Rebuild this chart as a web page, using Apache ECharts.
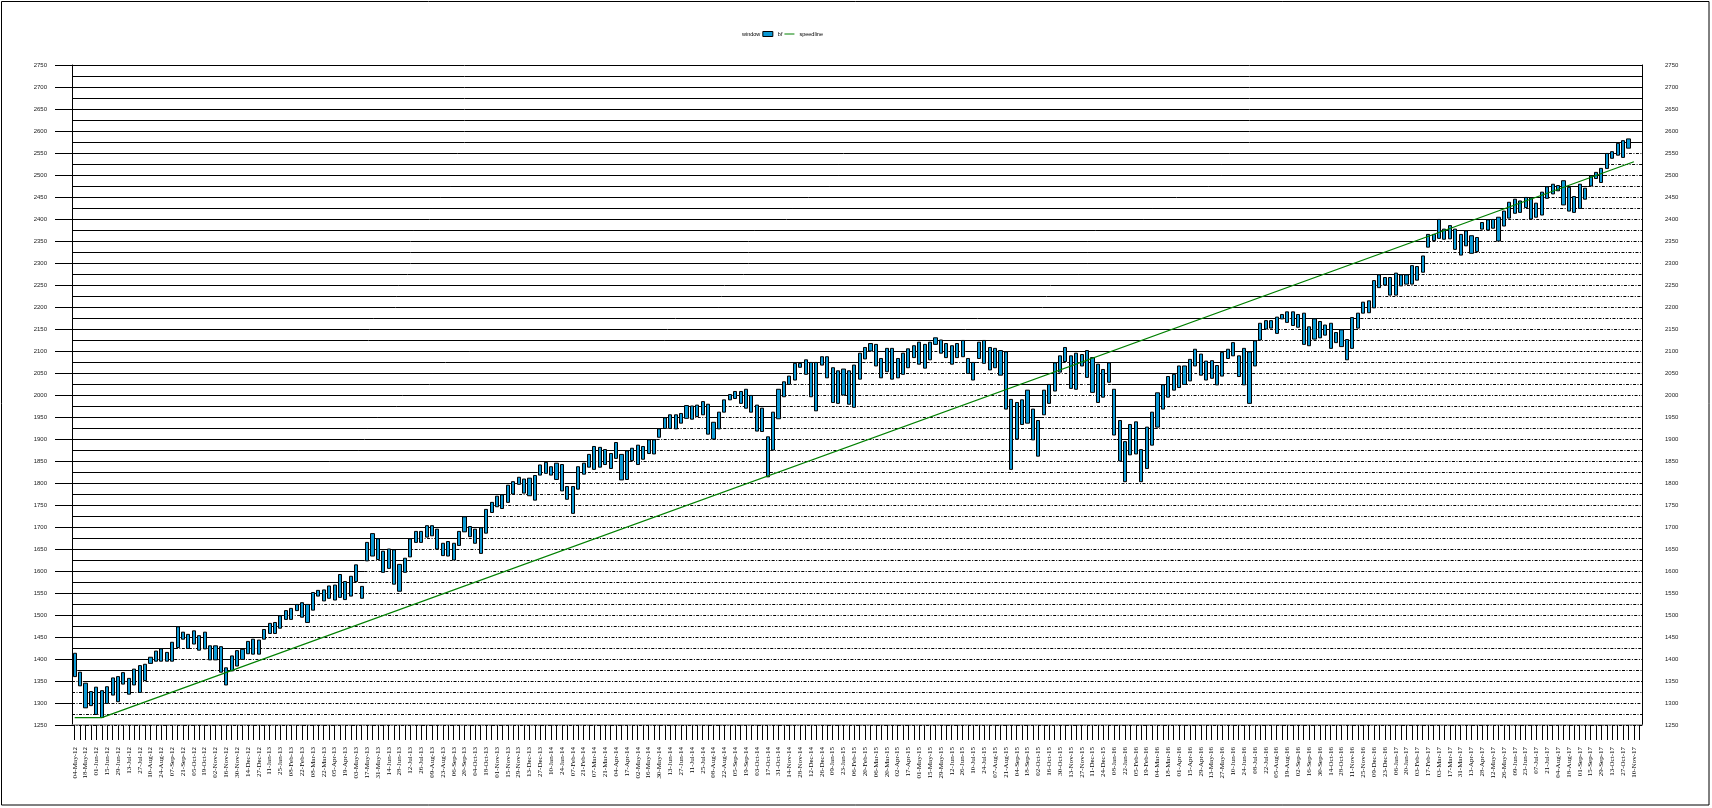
<!DOCTYPE html>
<html>
<head>
<meta charset="utf-8">
<script src="https://cdn.jsdelivr.net/npm/echarts@6/dist/echarts.min.js"></script>
<style>html,body{margin:0;padding:0;background:#fff}#c{width:1712px;height:808px}</style>
</head>
<body>
<div id="c"></div>
<script>
const categories = [
'04-May-12','11-May-12','18-May-12','25-May-12','01-Jun-12','08-Jun-12','15-Jun-12','22-Jun-12','29-Jun-12','06-Jul-12',
'13-Jul-12','20-Jul-12','27-Jul-12','03-Aug-12','10-Aug-12','17-Aug-12','24-Aug-12','31-Aug-12','07-Sep-12','14-Sep-12',
'21-Sep-12','28-Sep-12','05-Oct-12','12-Oct-12','19-Oct-12','26-Oct-12','02-Nov-12','09-Nov-12','16-Nov-12','23-Nov-12',
'30-Nov-12','07-Dec-12','14-Dec-12','21-Dec-12','27-Dec-12',
'04-Jan-13','11-Jan-13','18-Jan-13','25-Jan-13','01-Feb-13','08-Feb-13','15-Feb-13','22-Feb-13','01-Mar-13','08-Mar-13',
'15-Mar-13','22-Mar-13','28-Mar-13','05-Apr-13','12-Apr-13','19-Apr-13','26-Apr-13','03-May-13','10-May-13','17-May-13',
'24-May-13','31-May-13','07-Jun-13','14-Jun-13','21-Jun-13','28-Jun-13','05-Jul-13','12-Jul-13','19-Jul-13','26-Jul-13',
'02-Aug-13','09-Aug-13','16-Aug-13','23-Aug-13','30-Aug-13','06-Sep-13','13-Sep-13','20-Sep-13','27-Sep-13','04-Oct-13',
'11-Oct-13','18-Oct-13','25-Oct-13','01-Nov-13','08-Nov-13','15-Nov-13','22-Nov-13','29-Nov-13','06-Dec-13','13-Dec-13',
'20-Dec-13','27-Dec-13',
'03-Jan-14','10-Jan-14','17-Jan-14','24-Jan-14','31-Jan-14','07-Feb-14','14-Feb-14','21-Feb-14','28-Feb-14','07-Mar-14',
'14-Mar-14','21-Mar-14','28-Mar-14','04-Apr-14','11-Apr-14','17-Apr-14','25-Apr-14','02-May-14','09-May-14','16-May-14',
'23-May-14','30-May-14','06-Jun-14','13-Jun-14','20-Jun-14','27-Jun-14','03-Jul-14','11-Jul-14','18-Jul-14','25-Jul-14',
'01-Aug-14','08-Aug-14','15-Aug-14','22-Aug-14','29-Aug-14','05-Sep-14','12-Sep-14','19-Sep-14','26-Sep-14','03-Oct-14',
'10-Oct-14','17-Oct-14','24-Oct-14','31-Oct-14','07-Nov-14','14-Nov-14','21-Nov-14','28-Nov-14','05-Dec-14','12-Dec-14',
'19-Dec-14','26-Dec-14',
'02-Jan-15','09-Jan-15','16-Jan-15','23-Jan-15','30-Jan-15','06-Feb-15','13-Feb-15','20-Feb-15','27-Feb-15','06-Mar-15',
'13-Mar-15','20-Mar-15','27-Mar-15','02-Apr-15','10-Apr-15','17-Apr-15','24-Apr-15','01-May-15','08-May-15','15-May-15',
'22-May-15','29-May-15','05-Jun-15','12-Jun-15','19-Jun-15','26-Jun-15','02-Jul-15','10-Jul-15','17-Jul-15','24-Jul-15',
'31-Jul-15','07-Aug-15','14-Aug-15','21-Aug-15','28-Aug-15','04-Sep-15','11-Sep-15','18-Sep-15','25-Sep-15','02-Oct-15',
'09-Oct-15','16-Oct-15','23-Oct-15','30-Oct-15','06-Nov-15','13-Nov-15','20-Nov-15','27-Nov-15','04-Dec-15','11-Dec-15',
'18-Dec-15','24-Dec-15','31-Dec-15',
'08-Jan-16','15-Jan-16','22-Jan-16','29-Jan-16','05-Feb-16','12-Feb-16','19-Feb-16','26-Feb-16','04-Mar-16','11-Mar-16',
'18-Mar-16','24-Mar-16','01-Apr-16','08-Apr-16','15-Apr-16','22-Apr-16','29-Apr-16','06-May-16','13-May-16','20-May-16',
'27-May-16','03-Jun-16','10-Jun-16','17-Jun-16','24-Jun-16','01-Jul-16','08-Jul-16','15-Jul-16','22-Jul-16','29-Jul-16',
'05-Aug-16','12-Aug-16','19-Aug-16','26-Aug-16','02-Sep-16','09-Sep-16','16-Sep-16','23-Sep-16','30-Sep-16','07-Oct-16',
'14-Oct-16','21-Oct-16','28-Oct-16','04-Nov-16','11-Nov-16','18-Nov-16','25-Nov-16','02-Dec-16','09-Dec-16','16-Dec-16',
'23-Dec-16','30-Dec-16',
'06-Jan-17','13-Jan-17','20-Jan-17','27-Jan-17','03-Feb-17','10-Feb-17','17-Feb-17','24-Feb-17','03-Mar-17','10-Mar-17',
'17-Mar-17','24-Mar-17','31-Mar-17','07-Apr-17','13-Apr-17','21-Apr-17','28-Apr-17','05-May-17','12-May-17','19-May-17',
'26-May-17','02-Jun-17','09-Jun-17','16-Jun-17','23-Jun-17','30-Jun-17','07-Jul-17','14-Jul-17','21-Jul-17','28-Jul-17',
'04-Aug-17','11-Aug-17','18-Aug-17','25-Aug-17','01-Sep-17','08-Sep-17','15-Sep-17','22-Sep-17','29-Sep-17','06-Oct-17',
'13-Oct-17','20-Oct-17','27-Oct-17','03-Nov-17','10-Nov-17','17-Nov-17'
];

const highs = [
1413,1370,1345,1326,1336,1328,1337,1357,1360,1369,
1356,1377,1385,1388,1404,1418,1423,1415,1438,1473,
1461,1456,1464,1453,1461,1430,1430,1428,1380,1407,
1419,1422,1440,1445,1443,1467,1481,1483,1498,1510,
1515,1524,1528,1524,1551,1556,1557,1566,1568,1592,
1576,1588,1614,1565,1665,1685,1673,1645,1650,1648,
1615,1629,1673,1690,1690,1703,1703,1695,1663,1667,
1663,1690,1723,1701,1695,1698,1740,1756,1770,1773,
1795,1803,1813,1809,1811,1817,1841,1847,1837,1845,
1842,1792,1792,1837,1845,1865,1883,1881,1876,1867,
1892,1865,1873,1879,1886,1883,1898,1898,1923,1948,
1955,1955,1958,1976,1975,1977,1985,1979,1938,1961,
1989,2001,2008,2008,2013,1999,1977,1970,1905,1961,
2013,2030,2043,2072,2072,2080,2074,2074,2087,2087,
2062,2055,2059,2055,2068,2095,2108,2117,2115,2083,
2106,2106,2083,2095,2105,2112,2120,2115,2120,2130,
2125,2117,2112,2117,2124,2083,2074,2120,2124,2108,
2106,2101,2098,1990,1983,1989,2011,1968,1942,2011,
2024,2073,2089,2108,2089,2095,2092,2101,2085,2070,
2058,2073,2013,1942,1894,1933,1939,1876,1927,1961,
2005,2023,2042,2047,2066,2066,2081,2104,2093,2077,
2078,2067,2097,2104,2119,2089,2106,2098,2123,2163,
2169,2169,2177,2183,2189,2189,2183,2186,2155,2173,
2167,2159,2163,2142,2148,2126,2176,2186,2211,2214,
2260,2273,2267,2267,2277,2273,2273,2294,2292,2316,
2365,2365,2399,2377,2385,2377,2365,2373,2362,2358,
2392,2398,2399,2404,2418,2438,2445,2441,2449,2448,
2436,2461,2473,2479,2476,2487,2472,2451,2479,2470,
2498,2506,2515,2549,2553,2572,2578,2582
];

const lows = [
1360,1339,1289,1294,1274,1267,1299,1318,1303,1343,
1320,1341,1324,1351,1390,1395,1395,1395,1395,1426,
1445,1424,1434,1420,1423,1398,1398,1370,1341,1373,
1384,1399,1412,1411,1411,1445,1458,1458,1470,1490,
1490,1510,1495,1483,1511,1543,1532,1538,1534,1540,
1535,1543,1576,1538,1623,1634,1626,1597,1606,1570,
1554,1597,1632,1665,1665,1677,1680,1650,1635,1634,
1625,1658,1689,1678,1663,1640,1686,1733,1746,1742,
1756,1775,1797,1777,1771,1761,1818,1822,1818,1808,
1782,1763,1731,1786,1820,1836,1831,1836,1842,1833,
1856,1807,1808,1851,1842,1854,1867,1866,1904,1924,
1924,1923,1936,1947,1945,1951,1955,1911,1900,1923,
1961,1989,1992,1981,1970,1961,1918,1917,1814,1875,
1946,1996,2024,2034,2063,2047,1996,1964,2068,2039,
1983,1981,2000,1979,1972,2036,2082,2100,2066,2039,
2053,2036,2039,2047,2062,2085,2070,2061,2080,2115,
2095,2085,2070,2085,2087,2049,2034,2083,2072,2057,
2062,2045,1968,1831,1900,1933,1936,1898,1861,1955,
1981,2009,2052,2076,2015,2013,2066,2040,2006,1983,
1995,2029,1909,1850,1803,1864,1866,1803,1833,1886,
1927,1968,1995,2011,2017,2024,2032,2066,2045,2034,
2038,2023,2043,2083,2089,2042,2023,1981,2066,2125,
2150,2152,2140,2173,2165,2158,2154,2115,2112,2127,
2130,2136,2106,2119,2110,2080,2106,2152,2186,2187,
2198,2244,2250,2227,2227,2248,2252,2252,2261,2279,
2336,2351,2356,2354,2355,2331,2318,2339,2322,2326,
2377,2375,2379,2350,2384,2402,2413,2415,2426,2400,
2404,2409,2447,2457,2464,2432,2418,2415,2424,2445,
2475,2492,2483,2515,2538,2545,2540,2561
];

// speedline anchor points: [category index, value]
const speedIdx = [0, 5, 288];
const speedVal = [1266.7, 1266.7, 2530];

// axis settings
const yMin = 1250, yMax = 2750, yLabelStep = 50, gridStep = 25;

const BLUE = '#0A98D4';

const bfData = highs.map((h, i) => [lows[i], h, lows[i], h]);
const speedData = speedIdx.map((x, i) => [x, speedVal[i]]);
const levels = [];
for (let v = yMin; v <= yMax; v += gridStep) levels.push([0, v]);

function seg(x1, x2, y, solid) {
  const st = { stroke: '#000', lineWidth: 1 };
  if (!solid) st.lineDash = [3, 1.5, 1, 1.5];
  return { type: 'line', silent: true, shape: { x1: x1, y1: y, x2: x2, y2: y }, style: st };
}

function renderWindow(params, api) {
  const L = api.value(1);
  const cs = params.coordSys;
  const bw = api.size([1, 0])[0];
  const y = Math.round(api.coord([0, L])[1]) + 0.5;
  const children = [];
  let runStart = cs.x, runSolid = null;
  for (let i = 0; i < categories.length; i++) {
    const k = Math.min(i, highs.length - 1);
    const solid = (highs[k] + lows[k]) / 2 < L;
    if (runSolid === null) runSolid = solid;
    else if (solid !== runSolid) {
      const xe = api.coord([i, L])[0] - bw / 2;
      children.push(seg(runStart, xe, y, runSolid));
      runStart = xe; runSolid = solid;
    }
  }
  children.push(seg(runStart, cs.x + cs.width, y, runSolid));
  return { type: 'group', children: children };
}

const chart = echarts.init(document.getElementById('c'), null, { renderer: 'canvas' });
chart.setOption({
  animation: false,
  backgroundColor: '#fff',
  grid: { left: 72, right: 70, top: 65, bottom: 83 },
  legend: {
    left: 722, top: 26, itemWidth: 10, itemHeight: 5, itemGap: 2,
    textStyle: { fontSize: 5.5, color: '#000', fontFamily: 'Liberation Sans' },
    data: [
      { name: 'window', icon: 'rect', itemStyle: { opacity: 0 } },
      { name: 'bf', icon: 'rect', itemStyle: { color: BLUE, borderColor: '#000', borderWidth: 1 } },
      { name: 'speedline', icon: 'path://M0,0 L40,0 L40,4 L0,4 Z', itemStyle: { color: '#008000' } }
    ]
  },
  graphic: [{
    type: 'rect', silent: true, z: 100,
    shape: { x: 1.5, y: 1.5, width: 1707.5, height: 803.5 },
    style: { fill: 'none', stroke: '#000', lineWidth: 1 }
  }],
  xAxis: {
    type: 'category', data: categories, boundaryGap: true,
    axisLine: { show: true, lineStyle: { color: '#999', width: 1.5 } },
    axisTick: { show: true, interval: 0, alignWithLabel: true, length: 15, lineStyle: { color: '#000', width: 1 } },
    axisLabel: { interval: 1, rotate: 90, fontSize: 7, fontFamily: 'Liberation Serif', color: '#000', margin: 22, hideOverlap: false },
    splitLine: { show: false }
  },
  yAxis: [{
    type: 'value', min: yMin, max: yMax, interval: yLabelStep, position: 'left',
    axisLine: { show: true, lineStyle: { color: '#000', width: 1 } },
    axisTick: { show: true, inside: false, length: 17, lineStyle: { color: '#000', width: 1 } },
    axisLabel: { fontSize: 6, fontFamily: 'Liberation Sans', color: '#222', margin: 25, formatter: v => String(v) },
    splitLine: { show: false }
  }, {
    type: 'value', min: yMin, max: yMax, interval: yLabelStep, position: 'right',
    axisLine: { show: true, lineStyle: { color: '#000', width: 1 } },
    axisTick: { show: false },
    axisLabel: { fontSize: 6, fontFamily: 'Liberation Sans', color: '#222', margin: 23, formatter: v => String(v) },
    splitLine: { show: false }
  }],
  series: [{
    name: 'window', type: 'custom', z: 1, silent: true,
    data: levels, encode: { x: 0, y: 1 },
    renderItem: renderWindow
  }, {
    name: 'bf', type: 'candlestick', z: 3, barWidth: 3.6,
    data: bfData,
    itemStyle: { color: BLUE, color0: BLUE, borderColor: '#000', borderColor0: '#000', borderWidth: 1 }
  }, {
    name: 'speedline', type: 'line', z: 4, symbol: 'none', showSymbol: false,
    data: speedData, itemStyle: { color: '#008000' },
    lineStyle: { color: '#008000', width: 1.2 }
  }]
});
</script>
</body>
</html>
